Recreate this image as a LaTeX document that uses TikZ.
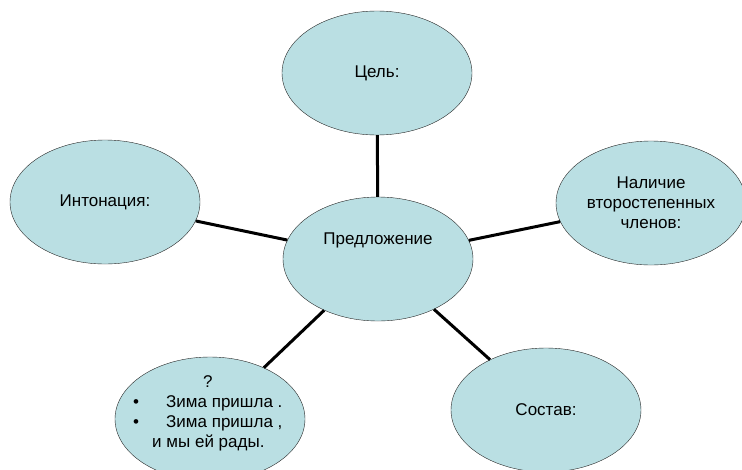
\documentclass[tikz,border=0pt]{standalone}
\usepackage{fontspec}
\setmainfont{Liberation Sans}
\usetikzlibrary{shapes.geometric}
\definecolor{bubblefill}{RGB}{186,223,227}
\begin{document}
\begin{tikzpicture}[x=1pt,y=-1pt,
  every node/.style={font=\fontsize{17}{20}\selectfont},
  bubble/.style={ellipse,draw=black!85,fill=bubblefill,minimum width=190pt,minimum height=124pt,inner sep=0pt,align=center},
  link/.style={line width=3pt}]
\useasboundingbox (0,0) rectangle (742,469);
\node[bubble] (sent) at (378,259) {};
\node (sentText) at (378,240) {Предложение};
\node[bubble] (goal) at (377,73) {Цель:};
\node[bubble] (tone) at (105,202) {Интонация:};
\node[bubble] (minor) at (651,203) {Наличие\\второстепенных\\членов:};
\node[bubble] (struct) at (546,410) {Состав:};
\node[bubble] (kinds) at (210,419) {};
\node[align=left,anchor=west,inner sep=0pt] (kindsText) at (133,413)
  {\hspace*{70pt}?\\ •\hspace{27pt}Зима пришла .\\ •\hspace{27pt}Зима пришла ,\\ \hspace*{19pt}и мы ей рады.};
% spokes
\foreach \b in {goal,tone,minor,struct,kinds} \draw[link] (sent) -- (\b);
\end{tikzpicture}
\end{document}
